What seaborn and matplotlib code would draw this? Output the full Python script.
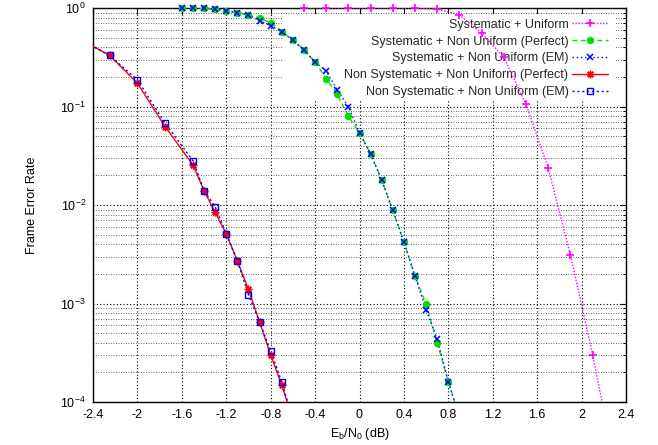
import numpy as np
import pandas as pd
import matplotlib
matplotlib.use("Agg")
import matplotlib.pyplot as plt
import seaborn as sns
from matplotlib.lines import Line2D
from matplotlib.patches import Rectangle
from matplotlib.ticker import LogLocator, FixedLocator, FuncFormatter, NullFormatter

# ---------------- data ----------------
su_x = [-0.5, -0.3, -0.1, 0.1, 0.3, 0.5, 0.7, 0.9, 1.1, 1.3, 1.5, 1.7, 1.9, 2.1, 2.3]
su_fer = [1.0, 1.0, 1.0, 1.0, 1.0, 1.0, 0.977, 0.85, 0.553, 0.316, 0.105, 0.0236, 0.0031, 3.0e-4, 2.2e-5]

snu_x = [-1.6, -1.5, -1.4, -1.3, -1.2, -1.1, -1.0, -0.9, -0.8, -0.7, -0.6, -0.5, -0.4,
         -0.3, -0.2, -0.1, 0.0, 0.1, 0.2, 0.3, 0.4, 0.5, 0.6, 0.7, 0.8, 0.9]
snu_perfect = [1.0, 1.0, 0.99, 0.97, 0.93, 0.9, 0.85, 0.79, 0.71, 0.575, 0.47, 0.375, 0.283,
               0.191, 0.133, 0.0795, 0.054, 0.0332, 0.0179, 0.0088, 0.0042, 0.0019, 9.8e-4,
               4.0e-4, 1.6e-4, 7e-5]
snu_em = [1.0, 1.0, 0.99, 0.97, 0.93, 0.9, 0.85, 0.74, 0.66, 0.575, 0.47, 0.375, 0.283,
          0.229, 0.147, 0.0995, 0.054, 0.0332, 0.0179, 0.0088, 0.0042, 0.0019, 8.6e-4,
          4.36e-4, 1.6e-4, 7e-5]

nsnu_x = [-2.5, -2.25, -2.0, -1.75, -1.5, -1.4, -1.3, -1.2, -1.1, -1.0, -0.9, -0.8, -0.7, -0.6]
nsnu_perfect = [0.47, 0.33, 0.172, 0.0624, 0.0255, 0.0140, 0.0084, 0.0051, 0.0027, 0.00139,
                6.5e-4, 3.0e-4, 1.48e-4, 6.6e-5]
nsnu_em = [0.47, 0.33, 0.186, 0.0675, 0.0282, 0.0140, 0.0096, 0.00511, 0.0027, 0.00123,
           6.5e-4, 3.3e-4, 1.6e-4, 6.5e-5]

series_names = ["Systematic + Uniform",
                "Systematic + Non Uniform (Perfect)",
                "Systematic + Non Uniform (EM)",
                "Non Systematic + Non Uniform (Perfect)",
                "Non Systematic + Non Uniform (EM)"]
series_x = [su_x, snu_x, snu_x, nsnu_x, nsnu_x]
series_y = [su_fer, snu_perfect, snu_em, nsnu_perfect, nsnu_em]

x_ticks = [-2.4, -2.0, -1.6, -1.2, -0.8, -0.4, 0.0, 0.4, 0.8, 1.2, 1.6, 2.0, 2.4]
x_tick_labels = ["-2.4", "-2", "-1.6", "-1.2", "-0.8", "-0.4", "0", "0.4", "0.8", "1.2", "1.6", "2", "2.4"]

# ---------------- styles ----------------
styles = [
    dict(color="#ff00ff", ls=(0, (1, 1.2)), marker="+", ms=5.5, mew=1.2, mfc="#ff00ff"),
    dict(color="#00e000", ls=(0, (3.5, 2.5)), marker="o", ms=4.5, mew=0.8, mfc="#00e000"),
    dict(color="#0000ff", ls=(0, (1, 2)), marker="x", ms=4.5, mew=1.1, mfc="#0000ff"),
    dict(color="#ff0000", ls="-", marker=(8, 2, 0), ms=5.5, mew=1.0, mfc="#ff0000"),
    dict(color="#0000ff", ls=(0, (1.5, 2)), marker="s", ms=4.5, mew=1.0, mfc="none"),
]

sns.set_theme(style="white")
plt.rcParams["font.family"] = ["Liberation Sans", "DejaVu Sans"]
plt.rcParams["mathtext.fontset"] = "custom"
plt.rcParams["mathtext.rm"] = "Liberation Sans"
plt.rcParams["mathtext.it"] = "Liberation Sans:italic"
plt.rcParams["axes.unicode_minus"] = False

FS = 9
XMIN, XMAX, YMIN, YMAX = -2.4, 2.4, 1e-4, 1.0
AX_L, AX_R, AX_T, AX_B = 93, 626, 8, 402  # pixel box of the axes

fig = plt.figure(figsize=(6.58, 4.45), dpi=100)
ax = fig.add_axes([AX_L / 658, 1 - AX_B / 445, (AX_R - AX_L) / 658, (AX_B - AX_T) / 445])
ax.set_facecolor("white")

handles = []
for name, xs, ys, st in zip(series_names, series_x, series_y, styles):
    df = pd.DataFrame({"x": xs, "y": ys})
    sns.lineplot(data=df, x="x", y="y", ax=ax, color=st["color"], linestyle=st["ls"],
                 linewidth=1.0, legend=False, zorder=3)
    inside = df[(df.x >= XMIN - 1e-9) & (df.x <= XMAX + 1e-9) & (df.y >= YMIN)]
    sns.lineplot(data=inside, x="x", y="y", ax=ax, color=st["color"], linestyle="none",
                 marker=st["marker"], markersize=st["ms"], markeredgewidth=st["mew"],
                 markerfacecolor=st["mfc"], markeredgecolor=st["color"],
                 legend=False, zorder=4, clip_on=False)
    handles.append(Line2D([], [], color=st["color"], linestyle=st["ls"], linewidth=1.0,
                          marker=st["marker"], markersize=st["ms"], markeredgewidth=st["mew"],
                          markerfacecolor=st["mfc"], markeredgecolor=st["color"]))

ax.set_yscale("log")
ax.set_xlim(XMIN, XMAX)
ax.set_ylim(YMIN, YMAX)

ax.xaxis.set_major_locator(FixedLocator(x_ticks))
ax.set_xticklabels(x_tick_labels)
ax.yaxis.set_major_locator(LogLocator(base=10, numticks=10))
ax.yaxis.set_minor_locator(LogLocator(base=10, subs=np.arange(2, 10), numticks=20))
ax.yaxis.set_major_formatter(FuncFormatter(lambda v, p: r"$\mathregular{10^{%d}}$" % int(round(np.log10(v)))))
ax.yaxis.set_minor_formatter(NullFormatter())

ax.tick_params(which="both", direction="in", top=True, right=True, colors="black",
               labelsize=FS, pad=5)
ax.tick_params(which="major", length=4.5, width=0.8)
ax.tick_params(which="minor", length=2.3, width=0.7)
ax.tick_params(axis="x", which="minor", bottom=False, top=False)

ax.set_axisbelow(True)
ax.grid(True, which="major", axis="both", color="black", linestyle=(0, (1, 2)), linewidth=0.8)
ax.grid(True, which="minor", axis="y", color="#333333", linestyle=(0, (1, 2)), linewidth=0.6)

for sp in ax.spines.values():
    sp.set_color("black")
    sp.set_linewidth(1.0)
    sp.set_visible(True)

ax.set_xlabel(r"$\mathregular{E_b/N_0}$ (dB)", fontsize=FS, color="black", labelpad=4)
ax.set_ylabel("Frame Error Rate", fontsize=FS, color="black", labelpad=16)

# opaque key box (gnuplot style: hides the grid, curves drawn over it)
W, H = AX_R - AX_L, AX_B - AX_T
box_l, box_r, box_t, box_b = 283, 615, 14, 100
ax.add_patch(Rectangle(((box_l - AX_L) / W, 1 - (box_b - AX_T) / H),
                       (box_r - box_l) / W, (box_b - box_t) / H,
                       transform=ax.transAxes, facecolor="white", edgecolor="none", zorder=1.5))

leg = ax.legend(handles, series_names, loc="upper right", markerfirst=False,
                bbox_to_anchor=(1 - 5 / W, 1 + 2.5 / H),
                fontsize=FS, frameon=False, handlelength=2.9, handletextpad=0.25,
                labelspacing=0.39, borderpad=0.45, borderaxespad=0.6)
leg.set_zorder(1.6)

fig.savefig("out.png", dpi=100)
